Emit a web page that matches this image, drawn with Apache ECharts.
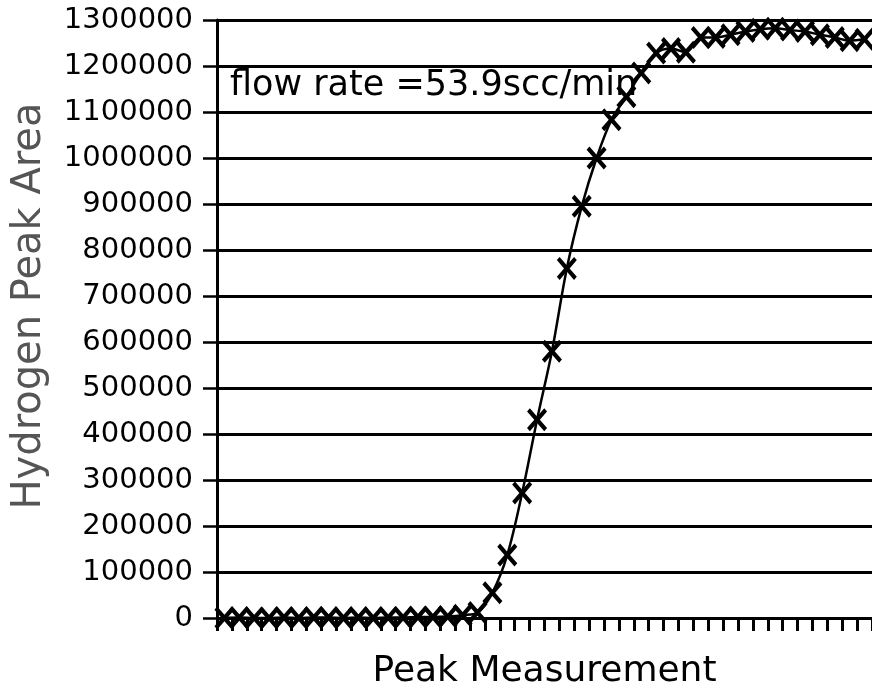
<!DOCTYPE html>
<html>
<head>
<meta charset="utf-8">
<title>Hydrogen Peak Area</title>
<script src="https://cdn.jsdelivr.net/npm/echarts@6/dist/echarts.min.js"></script>
<style>
  html, body { margin: 0; padding: 0; background: #fff; }
  #chart { width: 872px; height: 691px; }
</style>
</head>
<body>
<div id="chart"></div>
<script>
// Successive peak measurements (1..44)
const measurements = Array.from({ length: 44 }, (_, i) => String(i + 1));

// Hydrogen peak area for each measurement
const peakArea = [
  0, 1000, 0, 0, 1000, 0, 1000, 1000, 0, 1000, 0, 1000, 1000, 2000, 2000, 3000, 6000, 12000,
  55000, 137000, 272000, 431000, 580000, 760000, 895000, 1000000, 1083000, 1133000,
  1185000, 1228000, 1238000, 1230000, 1262000, 1262000, 1268000, 1275000, 1280000,
  1282000, 1278000, 1275000, 1268000, 1262000, 1255000, 1258000
];

// Value axis range and step
const yMin = 0;
const yMax = 1300000;
const yStep = 100000;

const annotation = 'flow rate =53.9scc/min';
const xTitle = 'Peak Measurement';
const yTitle = 'Hydrogen Peak Area';

// X-shaped marker drawn as a filled outline
const crossPath = 'path://M0,14L14,0L50,36L86,0L100,14L64,50L100,86L86,100L50,64L14,100L0,86L36,50Z';

const FONT = 'DejaVu Sans';

const chart = echarts.init(document.getElementById('chart'), null, { renderer: 'canvas' });

chart.setOption({
  animation: false,
  backgroundColor: '#ffffff',
  textStyle: { fontFamily: FONT },
  grid: {
    left: 217, right: 0, top: 20, bottom: 73,
    containLabel: false,
    outerBoundsMode: 'none'
  },
  xAxis: {
    type: 'category',
    data: measurements,
    boundaryGap: true,
    name: xTitle,
    nameLocation: 'middle',
    nameGap: 36,
    nameTextStyle: { fontFamily: FONT, fontSize: 36, color: '#000' },
    axisLine: { show: true, lineStyle: { color: '#000', width: 3 } },
    axisTick: { show: true, inside: false, length: 13, interval: 0, lineStyle: { color: '#000', width: 3 } },
    axisLabel: { show: false },
    splitLine: { show: false }
  },
  yAxis: {
    type: 'value',
    min: yMin,
    max: yMax,
    interval: yStep,
    name: yTitle,
    nameLocation: 'middle',
    nameRotate: 90,
    nameGap: 167,
    nameTextStyle: { fontFamily: FONT, fontSize: 40, color: '#555', padding: [0, 0, 0, 26] },
    axisLine: { show: true, lineStyle: { color: '#000', width: 3 } },
    axisTick: { show: true, inside: false, length: 14, lineStyle: { color: '#000', width: 2.5 } },
    axisLabel: {
      fontFamily: FONT, fontSize: 29, color: '#000', margin: 24,
      formatter: (v) => String(v)
    },
    splitLine: { show: true, lineStyle: { color: '#000', width: 3 } }
  },
  graphic: [{
    type: 'text',
    left: 230,
    top: 68,
    z: 5,
    style: {
      text: annotation,
      fontFamily: FONT,
      fontSize: 35,
      fill: '#000'
    }
  }],
  series: [{
    type: 'line',
    data: peakArea,
    smooth: 0.35,
    z: 10,
    showAllSymbol: true,
    symbol: crossPath,
    symbolSize: [20, 23],
    lineStyle: { color: '#000', width: 2.5 },
    itemStyle: { color: '#000' }
  }]
});
</script>
</body>
</html>
